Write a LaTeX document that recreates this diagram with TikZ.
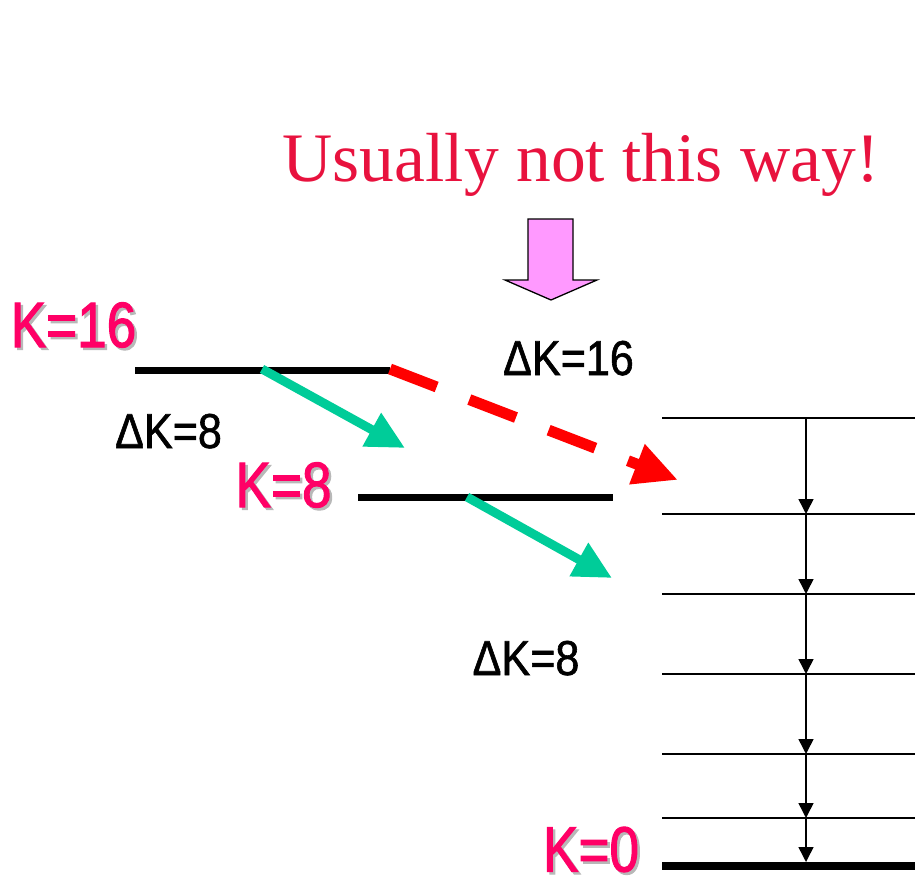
\documentclass[tikz,border=0pt]{standalone}
\usepackage{fontspec}
\usetikzlibrary{arrows.meta}
\setmainfont{Liberation Serif}
\newfontfamily\pinkfont[FakeStretch=0.83,FakeBold=1.6]{Liberation Sans}
\newfontfamily\blackfont[FakeStretch=0.88,FakeBold=1.2]{Liberation Sans}
\definecolor{kpink}{HTML}{FF0066}
\definecolor{titlered}{HTML}{E8123E}
\definecolor{kgreen}{HTML}{00CC99}
\definecolor{blockpink}{HTML}{FF99FF}
\definecolor{shadowgray}{HTML}{B8B8B8}
\tikzset{
  klabel/.style={anchor=base, inner sep=0pt, text=kpink, font=\pinkfont\fontsize{64}{64}\selectfont},
  kshadow/.style={anchor=base, inner sep=0pt, text=shadowgray, font=\pinkfont\fontsize{64}{64}\selectfont},
  dlabel/.style={anchor=base, inner sep=0pt, text=black, font=\blackfont\fontsize{49}{49}\selectfont},
  level/.style={line width=7pt},
  thinlevel/.style={line width=1.5pt},
  greenarrow/.style={kgreen, line width=9pt, -{Triangle[length=38pt,width=36pt]}},
  redarrow/.style={red, line width=11pt, dash pattern=on 50pt off 35pt, -{Triangle[length=44pt,width=40pt]}},
  ladderarrow/.style={line width=1.5pt, -{Triangle[length=15pt,width=15pt]}},
}
\begin{document}
\begin{tikzpicture}[x=1pt,y=-1pt]
\useasboundingbox (0,0) rectangle (915,875);
% title
\node[anchor=base, inner sep=0pt, text=titlered, font=\fontsize{69.5}{70}\selectfont] (title) at (581,181) {Usually not this way!};
% block arrow
\draw[fill=blockpink, line width=1.3pt, line join=miter] (528,219) -- (573,219) -- (573,280) -- (597,280) -- (551,300) -- (505,280) -- (528,280) -- cycle;
% levels left
\coordinate (a1) at (135,370); \coordinate (a2) at (390,370);
\draw[level] (a1) -- (a2);
\coordinate (b1) at (358,497); \coordinate (b2) at (613,497);
\draw[level] (b1) -- (b2);
% labels
\node[kshadow] (k16s) at (76,349.5) {K=16};
\node[klabel] (k16) at (73.5,347) {K=16};
\node[kshadow] (k8s) at (286,509.5) {K=8};
\node[klabel] (k8) at (283.5,507) {K=8};
\node[kshadow] (k0s) at (593.5,874) {K=0};
\node[klabel] (k0) at (591,871.5) {K=0};
\node[dlabel] (d8a) at (168.5,448) {ΔK=8};
\node[dlabel] (d16) at (568.5,375) {ΔK=16};
\node[dlabel] (d8b) at (526,675) {ΔK=8};
% green arrows
\coordinate (g1s) at (262,369); \coordinate (g1e) at (405,448);
\draw[greenarrow] (g1s) -- (g1e);
\coordinate (g2s) at (467,497); \coordinate (g2e) at (612,578);
\draw[greenarrow] (g2s) -- (g2e);
% red dashed
\coordinate (rs) at (390,369); \coordinate (re) at (678,480);
\draw[redarrow] (rs) -- (re);
% ladder
\foreach \y/\n in {418/1,514/2,594/3,674/4,754/5,818/6}{
  \coordinate (l\n w) at (662,\y); \coordinate (l\n e) at (915,\y);
  \coordinate (l\n m) at (806,\y);
  \draw[thinlevel] (l\n w) -- (l\n e);
}
\coordinate (l7w) at (662,866); \coordinate (l7e) at (915,866);
\coordinate (l7m) at (806,862);
\draw[line width=8pt] (l7w) -- (l7e);
\foreach \a/\b in {1/2,2/3,3/4,4/5,5/6,6/7}{
  \draw[ladderarrow] (l\a m) -- (l\b m);
}
\end{tikzpicture}
\end{document}
